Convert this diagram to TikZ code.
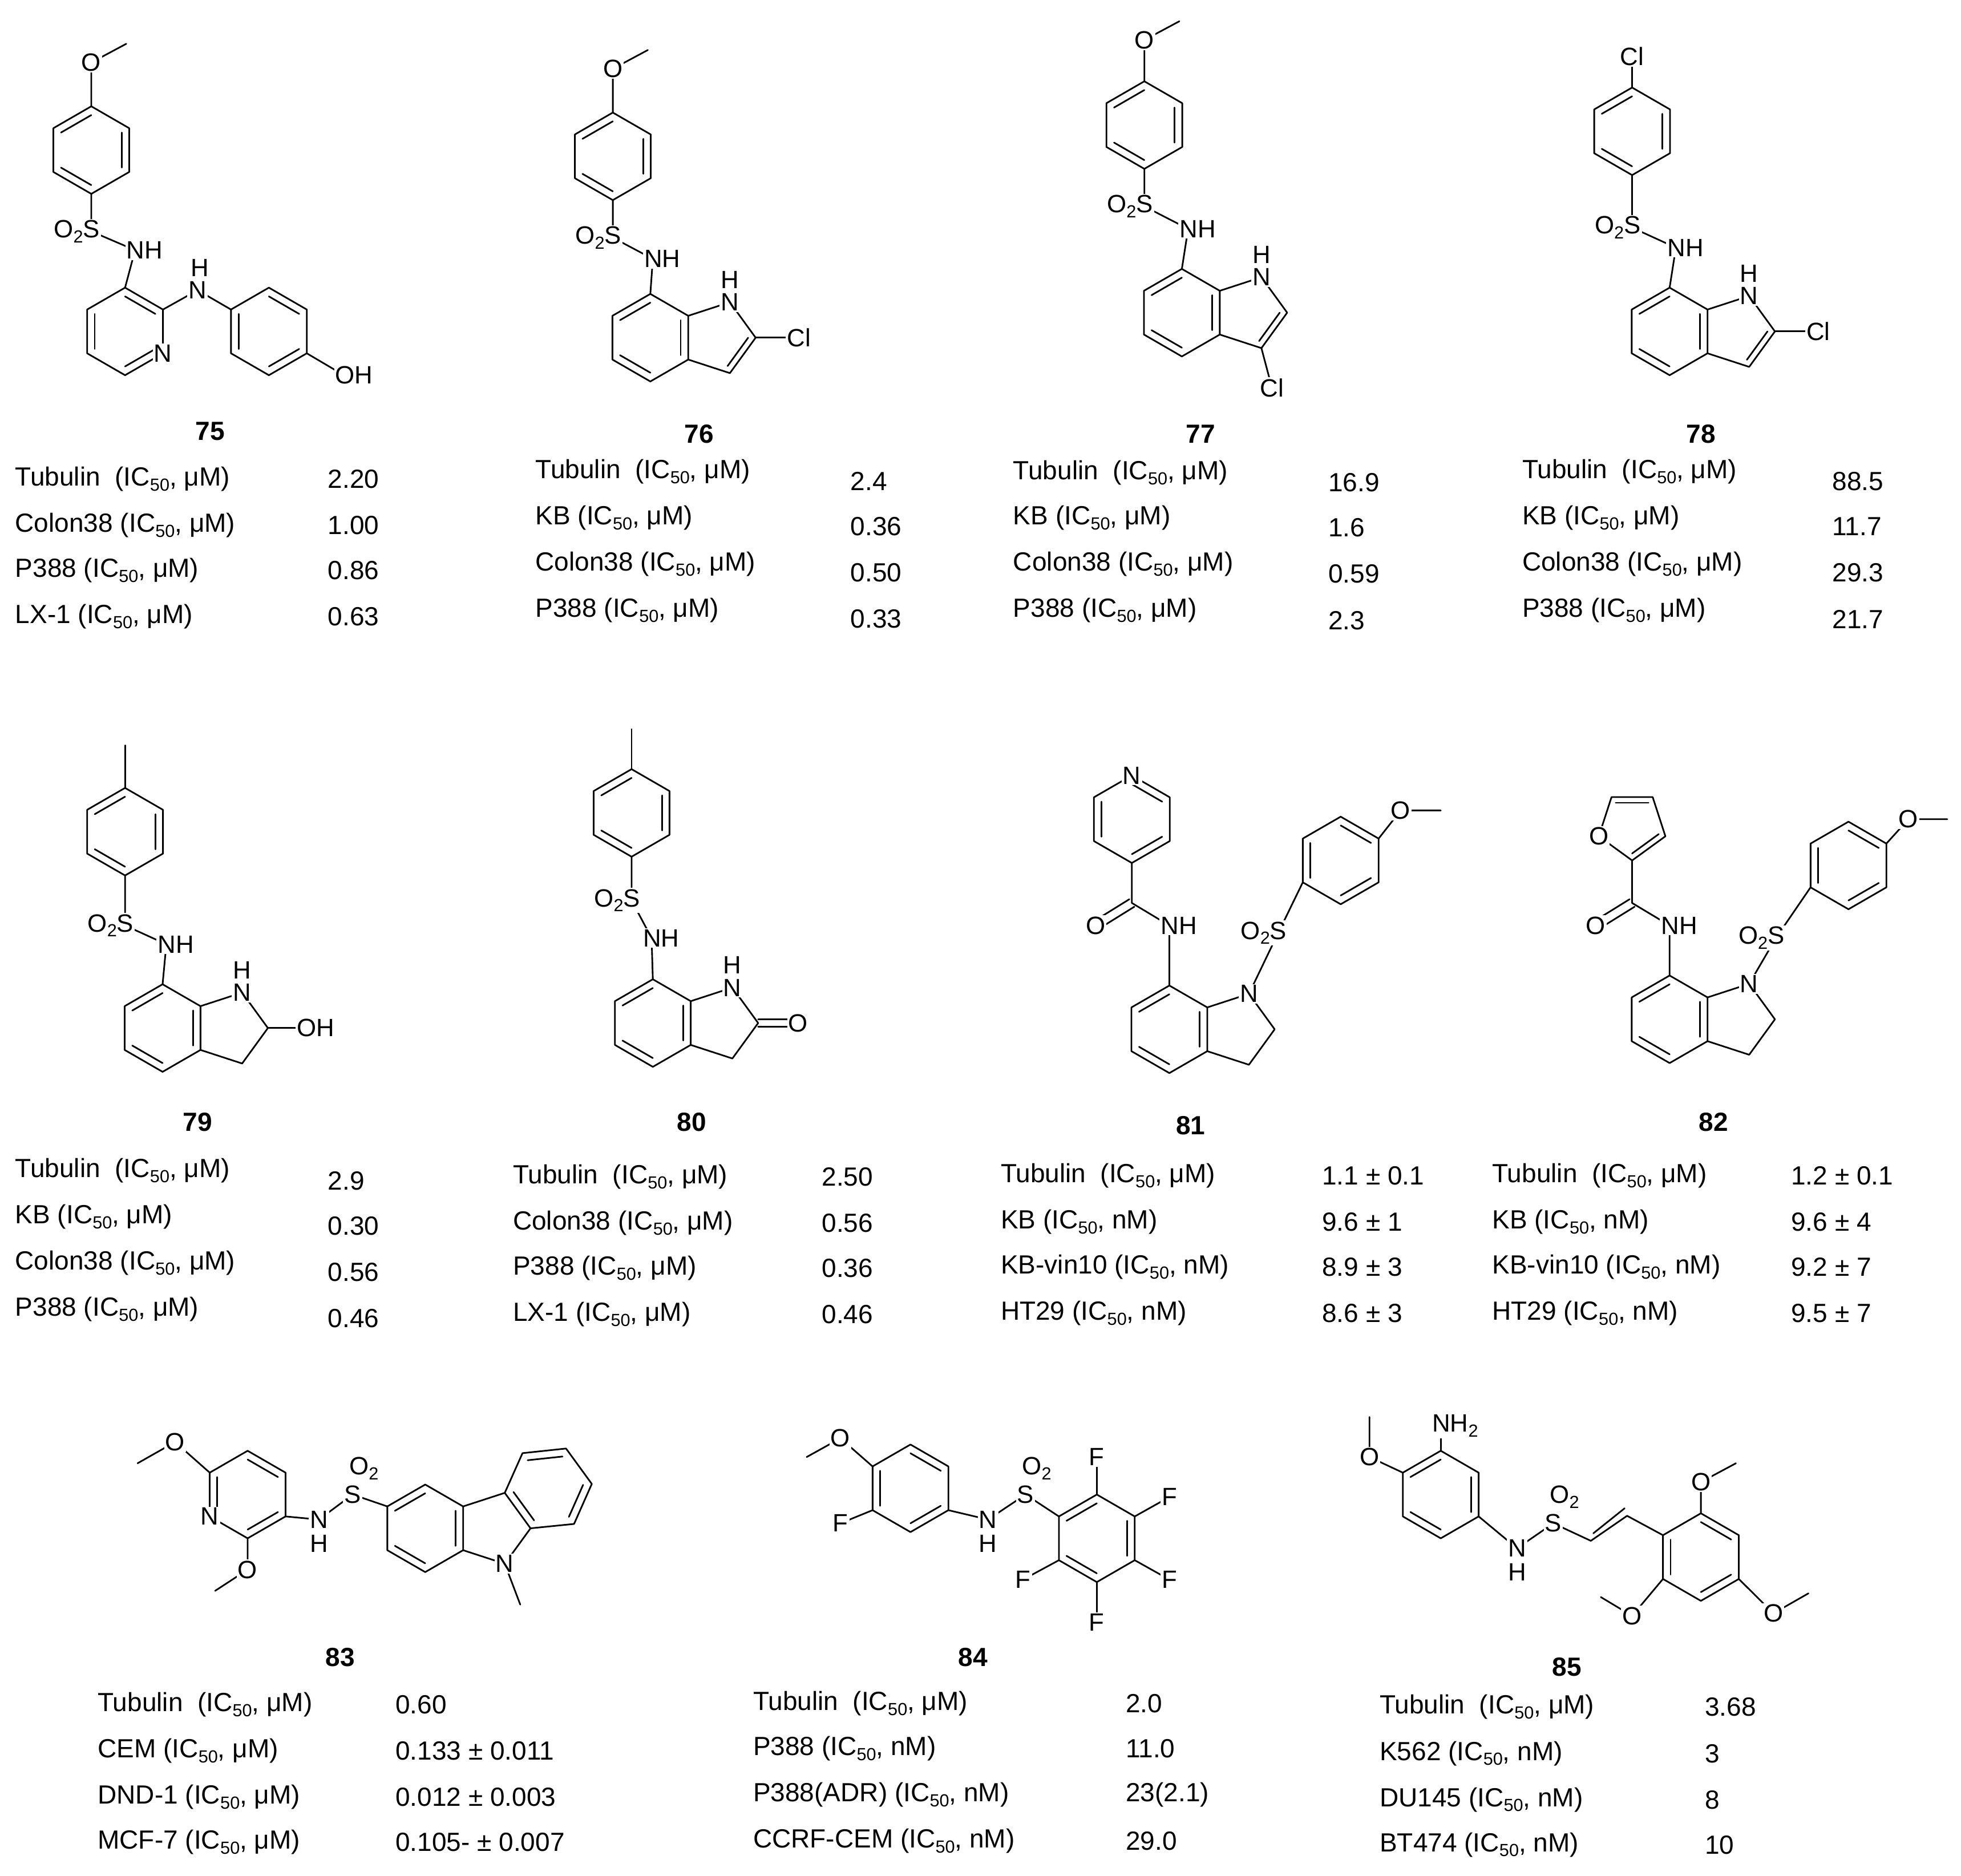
\documentclass[tikz,border=0pt]{standalone}
\usepackage{fontspec}
\setmainfont{Liberation Sans}
\usetikzlibrary{calc}
\newcommand\lowsub[1]{\raisebox{-4pt}{\fontsize{14}{14}\selectfont #1}}
\newcommand\hexa[4]{%
 \coordinate (#1c) at (#2,#3);
 \foreach \k in {1,...,6}{\coordinate (#1\k) at ($(#1c)+({-150+60*\k+#4}:35)$);}
 \draw[bond] (#11)--(#12)--(#13)--(#14)--(#15)--(#16)--cycle;}
\newcommand\db[3]{\draw[bond] ($(#1#2)!0.2!(#1c)$) -- ($(#1#3)!0.2!(#1c)$);}
\newcommand\penta[1]{%
 \coordinate (#1pc) at ($(#1c)+(54.4,0)$);
 \coordinate (#1p1) at ($(#1pc)+(-72:29.8)$);
 \coordinate (#1p2) at ($(#1pc)+(0:29.8)$);
 \coordinate (#1p3) at ($(#1pc)+(72:29.8)$);
 \draw[bond] (#12)--(#1p1)--(#1p2)--(#1p3)--(#13);}
\newcommand\dbp[1]{\draw[bond] ($(#1p2)!0.2!(#1pc)$) -- ($(#1p3)!0.2!(#1pc)$);}
\newcommand\trow[6]{\node[tl] at (#1,#2) {#3}; \node[tv] at (#4,#5) {#6};}
\begin{document}
\begin{tikzpicture}[x=1pt,y=-1pt,
  bond/.style={line width=1.3pt,line cap=round,line join=round},
  lab/.style={fill=white,inner sep=1pt,font=\fontsize{20}{22}\selectfont},
  tl/.style={anchor=west,inner sep=0pt,font=\fontsize{21}{24}\selectfont},
  tv/.style={anchor=west,inner sep=0pt,font=\fontsize{21}{24}\selectfont},
  num/.style={font=\fontsize{21}{24}\selectfont\bfseries}]
\useasboundingbox[fill=white] (0,0) rectangle (1568,1500);
% ================= 75
\hexa{a}{73}{120}{0}\db{a}{2}{3}\db{a}{4}{5}\db{a}{6}{1}
\coordinate (aO) at (73,50); \coordinate (aMe) at (101,35);
\coordinate (aS) at (73,185); \coordinate (aN) at (108,200);
\hexa{b}{100}{265}{0}\db{b}{5}{6}\db{b}{1}{2}\db{b}{3}{4}
\hexa{c}{215}{265}{0}\db{c}{1}{2}\db{c}{3}{4}\db{c}{5}{6}
\coordinate (bN) at (158,232); \coordinate (cO) at (275,300);
\draw[bond] (a1)--(aO)--(aMe); \draw[bond] (a4)--(aS)--(aN)--(b1);
\draw[bond] (b2)--(bN)--(c6); \draw[bond] (c3)--(cO);
\node[lab] (t75o) at (aO) {O};
\node[lab,anchor=east] (t75s) at ($(aS)+(8,0)$) {O\lowsub{2}S};
\node[lab,anchor=west] (t75n) at ($(aN)+(-8,0)$) {NH};
\node[lab] (t75pn) at (b3) {N};
\node[lab] (t75nn) at (bN) {N}; \node[lab] (t75h) at ($(bN)+(2,-18)$) {H};
\node[lab,anchor=west] (t75oh) at ($(cO)+(-8,0)$) {OH};
\node[num] (n75) at (168,345) {75};
\trow{12}{383}{Tubulin~~(IC\lowsub{50}, μM)}{262}{383}{2.20}
\trow{12}{420}{Colon38 (IC\lowsub{50}, μM)}{262}{420}{1.00}
\trow{12}{456}{P388 (IC\lowsub{50}, μM)}{262}{456}{0.86}
\trow{12}{493}{LX-1 (IC\lowsub{50}, μM)}{262}{493}{0.63}
% ================= 76
\hexa{d}{490}{125}{0}\db{d}{2}{3}\db{d}{4}{5}\db{d}{6}{1}
\coordinate (dO) at (490,55); \coordinate (dMe) at (518,40);
\coordinate (dS) at (490,190); \coordinate (dN) at (522,207);
\hexa{e}{520}{270}{0}\penta{e}\db{e}{6}{1}\db{e}{2}{3}\db{e}{4}{5}\dbp{e}
\coordinate (eCl) at ($(ep2)+(30,0)$);
\draw[bond] (d1)--(dO)--(dMe); \draw[bond] (d4)--(dS)--(dN)--(e1); \draw[bond] (ep2)--(eCl);
\node[lab] (t76o) at (dO) {O};
\node[lab,anchor=east] (t76s) at ($(dS)+(8,0)$) {O\lowsub{2}S};
\node[lab,anchor=west] (t76n) at ($(dN)+(-8,0)$) {NH};
\node[lab] (t76in) at (ep1) {N}; \node[lab] (t76h) at ($(ep1)+(0,-18)$) {H};
\node[lab,anchor=west] (t76cl) at ($(eCl)+(-6,0)$) {Cl};
\node[num] (n76) at (559,347) {76};
\trow{428}{377}{Tubulin~~(IC\lowsub{50}, μM)}{680}{385}{2.4}
\trow{428}{414}{KB (IC\lowsub{50}, μM)}{680}{421}{0.36}
\trow{428}{451}{Colon38 (IC\lowsub{50}, μM)}{680}{458}{0.50}
\trow{428}{488}{P388 (IC\lowsub{50}, μM)}{680}{495}{0.33}
% ================= 77
\hexa{f}{915}{100}{0}\db{f}{2}{3}\db{f}{4}{5}\db{f}{6}{1}
\coordinate (fO) at (915,32); \coordinate (fMe) at (943,17);
\coordinate (fS) at (915,165); \coordinate (fN) at (950,183);
\hexa{g}{945}{250}{0}\penta{g}\db{g}{6}{1}\db{g}{2}{3}\db{g}{4}{5}\dbp{g}
\coordinate (gCl) at (1017,310);
\draw[bond] (f1)--(fO)--(fMe); \draw[bond] (f4)--(fS)--(fN)--(g1); \draw[bond] (gp3)--(gCl);
\node[lab] (t77o) at (fO) {O};
\node[lab,anchor=east] (t77s) at ($(fS)+(8,0)$) {O\lowsub{2}S};
\node[lab,anchor=west] (t77n) at ($(fN)+(-8,0)$) {NH};
\node[lab] (t77in) at (gp1) {N}; \node[lab] (t77h) at ($(gp1)+(0,-18)$) {H};
\node[lab] (t77cl) at (gCl) {Cl};
\node[num] (n77) at (960,347) {77};
\trow{810}{378}{Tubulin~~(IC\lowsub{50}, μM)}{1062}{386}{16.9}
\trow{810}{414}{KB (IC\lowsub{50}, μM)}{1062}{422}{1.6}
\trow{810}{451}{Colon38 (IC\lowsub{50}, μM)}{1062}{459}{0.59}
\trow{810}{488}{P388 (IC\lowsub{50}, μM)}{1062}{496}{2.3}
% ================= 78
\hexa{h}{1305}{105}{0}\db{h}{2}{3}\db{h}{4}{5}\db{h}{6}{1}
\coordinate (hCl) at (1305,45);
\coordinate (hS) at (1305,182); \coordinate (hN) at (1340,198);
\hexa{i}{1335}{265}{0}\penta{i}\db{i}{6}{1}\db{i}{2}{3}\db{i}{4}{5}\dbp{i}
\coordinate (iCl) at ($(ip2)+(30,0)$);
\draw[bond] (h1)--(hCl); \draw[bond] (h4)--(hS)--(hN)--(i1); \draw[bond] (ip2)--(iCl);
\node[lab] (t78cl1) at (hCl) {Cl};
\node[lab,anchor=east] (t78s) at ($(hS)+(8,0)$) {O\lowsub{2}S};
\node[lab,anchor=west] (t78n) at ($(hN)+(-8,0)$) {NH};
\node[lab] (t78in) at (ip1) {N}; \node[lab] (t78h) at ($(ip1)+(0,-18)$) {H};
\node[lab,anchor=west] (t78cl) at ($(iCl)+(-6,0)$) {Cl};
\node[num] (n78) at (1360,347) {78};
\trow{1217}{377}{Tubulin~~(IC\lowsub{50}, μM)}{1465}{385}{88.5}
\trow{1217}{414}{KB (IC\lowsub{50}, μM)}{1465}{421}{11.7}
\trow{1217}{451}{Colon38 (IC\lowsub{50}, μM)}{1465}{458}{29.3}
\trow{1217}{488}{P388 (IC\lowsub{50}, μM)}{1465}{495}{21.7}
% ================= 79
\hexa{j}{100}{665}{0}\db{j}{2}{3}\db{j}{4}{5}\db{j}{6}{1}
\coordinate (jMe) at (100,596);
\coordinate (jS) at (100,740); \coordinate (jN) at (133,755);
\hexa{k}{130}{822}{0}\penta{k}\db{k}{6}{1}\db{k}{2}{3}\db{k}{4}{5}
\coordinate (kO) at ($(kp2)+(30,0)$);
\draw[bond] (j1)--(jMe); \draw[bond] (j4)--(jS)--(jN)--(k1); \draw[bond] (kp2)--(kO);
\node[lab,anchor=east] (t79s) at ($(jS)+(8,0)$) {O\lowsub{2}S};
\node[lab,anchor=west] (t79n) at ($(jN)+(-8,0)$) {NH};
\node[lab] (t79in) at (kp1) {N}; \node[lab] (t79h) at ($(kp1)+(0,-18)$) {H};
\node[lab,anchor=west] (t79oh) at ($(kO)+(-8,0)$) {OH};
\node[num] (n79) at (158,897) {79};
\trow{12}{936}{Tubulin~~(IC\lowsub{50}, μM)}{262}{944}{2.9}
\trow{12}{973}{KB (IC\lowsub{50}, μM)}{262}{980}{0.30}
\trow{12}{1010}{Colon38 (IC\lowsub{50}, μM)}{262}{1017}{0.56}
\trow{12}{1047}{P388 (IC\lowsub{50}, μM)}{262}{1054}{0.46}
% ================= 80
\hexa{l}{505}{650}{0}\db{l}{2}{3}\db{l}{4}{5}\db{l}{6}{1}
\coordinate (lMe) at (505,583);
\coordinate (lS) at (505,720); \coordinate (lN) at (521,750);
\hexa{m}{522}{818}{0}\penta{m}\db{m}{6}{1}\db{m}{2}{3}\db{m}{4}{5}
\coordinate (mO) at ($(mp2)+(30,0)$);
\draw[bond] (l1)--(lMe); \draw[bond] (l4)--(lS)--(lN)--(m1);
\draw[bond] ($(mp2)+(0,-3)$)--($(mO)+(0,-3)$); \draw[bond] ($(mp2)+(0,3)$)--($(mO)+(0,3)$);
\node[lab,anchor=east] (t80s) at ($(lS)+(8,0)$) {O\lowsub{2}S};
\node[lab,anchor=west] (t80n) at ($(lN)+(-8,0)$) {NH};
\node[lab] (t80in) at (mp1) {N}; \node[lab] (t80h) at ($(mp1)+(0,-18)$) {H};
\node[lab,anchor=west] (t80o) at ($(mO)+(-7,0)$) {O};
\node[num] (n80) at (553,897) {80};
\trow{410}{941}{Tubulin~~(IC\lowsub{50}, μM)}{657}{941}{2.50}
\trow{410}{978}{Colon38 (IC\lowsub{50}, μM)}{657}{978}{0.56}
\trow{410}{1014}{P388 (IC\lowsub{50}, μM)}{657}{1014}{0.36}
\trow{410}{1051}{LX-1 (IC\lowsub{50}, μM)}{657}{1051}{0.46}
% ================= 81
\hexa{n}{905}{655}{0}\db{n}{1}{2}\db{n}{3}{4}\db{n}{5}{6}
\coordinate (nC) at (905,722); \coordinate (nO) at (876,740); \coordinate (nN) at (935,740);
\hexa{o}{935}{823}{0}\penta{o}\db{o}{6}{1}\db{o}{2}{3}\db{o}{4}{5}
\coordinate (oS) at (1022,746);
\hexa{q}{1072}{688}{0}\db{q}{1}{2}\db{q}{3}{4}\db{q}{5}{6}
\coordinate (qO) at (1120,648); \coordinate (qMe) at (1152,648);
\draw[bond] (n4)--(nC)--(nN)--(o1);
\draw[bond] ($(nC)+(-2,-3)$)--($(nO)+(-2,-3)$); \draw[bond] ($(nC)+(2,3)$)--($(nO)+(2,3)$);
\draw[bond] (op1)--(oS)--(q5); \draw[bond] (q2)--(qO)--(qMe);
\node[lab] (t81pn) at (n1) {N};
\node[lab] (t81o) at (nO) {O};
\node[lab,anchor=west] (t81n) at ($(nN)+(-8,0)$) {NH};
\node[lab] (t81in) at (op1) {N};
\node[lab,anchor=east] (t81s) at ($(oS)+(8,0)$) {O\lowsub{2}S};
\node[lab] (t81mo) at (qO) {O};
\node[num] (n81) at (952,900) {81};
\trow{800}{940}{Tubulin~~(IC\lowsub{50}, μM)}{1057}{940}{1.1 ± 0.1}
\trow{800}{977}{KB (IC\lowsub{50}, nM)}{1057}{977}{9.6 ± 1}
\trow{800}{1013}{KB-vin10 (IC\lowsub{50}, nM)}{1057}{1013}{8.9 ± 3}
\trow{800}{1050}{HT29 (IC\lowsub{50}, nM)}{1057}{1050}{8.6 ± 3}
% ================= 82
\coordinate (rc) at (1305,660);
\coordinate (rB) at ($(rc)+(90:28)$); \coordinate (rO) at ($(rc)+(162:28)$);
\coordinate (rTL) at ($(rc)+(234:28)$); \coordinate (rTR) at ($(rc)+(306:28)$);
\coordinate (rR) at ($(rc)+(18:28)$);
\draw[bond] (rB)--(rO)--(rTL)--(rTR)--(rR)--cycle;
\draw[bond] ($(rTL)!0.2!(rc)$)--($(rTR)!0.2!(rc)$); \draw[bond] ($(rR)!0.2!(rc)$)--($(rB)!0.2!(rc)$);
\coordinate (sC) at (1305,722); \coordinate (sO) at (1276,740); \coordinate (sN) at (1335,740);
\hexa{s}{1335}{815}{0}\penta{s}\db{s}{6}{1}\db{s}{2}{3}\db{s}{4}{5}
\coordinate (sS) at (1420,750);
\hexa{t}{1478}{692}{0}\db{t}{1}{2}\db{t}{3}{4}\db{t}{5}{6}
\coordinate (tO) at (1526,655); \coordinate (tMe) at (1557,655);
\draw[bond] (rB)--(sC)--(sN)--(s1);
\draw[bond] ($(sC)+(-2,-3)$)--($(sO)+(-2,-3)$); \draw[bond] ($(sC)+(2,3)$)--($(sO)+(2,3)$);
\draw[bond] (sp1)--(sS)--(t5); \draw[bond] (t2)--(tO)--(tMe);
\node[lab] (t82fo) at (rO) {O};
\node[lab] (t82o) at (sO) {O};
\node[lab,anchor=west] (t82n) at ($(sN)+(-8,0)$) {NH};
\node[lab] (t82in) at (sp1) {N};
\node[lab,anchor=east] (t82s) at ($(sS)+(8,0)$) {O\lowsub{2}S};
\node[lab] (t82mo) at (tO) {O};
\node[num] (n82) at (1370,897) {82};
\trow{1193}{940}{Tubulin~~(IC\lowsub{50}, μM)}{1432}{940}{1.2 ± 0.1}
\trow{1193}{977}{KB (IC\lowsub{50}, nM)}{1432}{977}{9.6 ± 4}
\trow{1193}{1013}{KB-vin10 (IC\lowsub{50}, nM)}{1432}{1013}{9.2 ± 7}
\trow{1193}{1050}{HT29 (IC\lowsub{50}, nM)}{1432}{1050}{9.5 ± 7}
% ================= 83
\hexa{u}{198}{1195}{0}\db{u}{5}{6}\db{u}{3}{4}\db{u}{1}{2}
\coordinate (uO1) at (140,1153); \coordinate (uMe1) at (110,1170);
\coordinate (uO2) at (198,1255); \coordinate (uMe2) at (172,1272);
\coordinate (uN) at (255,1215); \coordinate (uS) at (282,1195);
\hexa{v}{340}{1222}{0}\penta{v}\db{v}{6}{1}\db{v}{2}{3}\db{v}{4}{5}
\coordinate (wc) at (438.4,1190.2);
\coordinate (w1) at (459,1218.5); \coordinate (w2) at (473.2,1186.5);
\coordinate (w3) at (452.6,1158.2); \coordinate (w4) at (417.8,1161.9);
\draw[bond] (vp2)--(w1)--(w2)--(w3)--(w4)--(vp1);
\draw[bond] ($(w3)!0.2!(wc)$)--($(w4)!0.2!(wc)$); \draw[bond] ($(w1)!0.2!(wc)$)--($(w2)!0.2!(wc)$);
\draw[bond] ($(vp1)!0.2!(wc)$)--($(vp2)!0.2!(wc)$);
\coordinate (vMe) at (416,1283);
\draw[bond] (u6)--(uO1)--(uMe1); \draw[bond] (u4)--(uO2)--(uMe2);
\draw[bond] (u3)--(uN)--(uS)--(v6); \draw[bond] (vp3)--(vMe);
\node[lab] (t83o1) at (uO1) {O}; \node[lab] (t83o2) at (uO2) {O};
\node[lab] (t83pn) at (u5) {N};
\node[lab] (t83n) at (uN) {N}; \node[lab] (t83h) at ($(uN)+(0,19)$) {H};
\node[lab] (t83s) at (uS) {S}; \node[lab] (t83o2s) at ($(uS)+(9,-21)$) {O\lowsub{2}};
\node[lab] (t83cn) at (vp3) {N};
\node[num] (n83) at (272,1325) {83};
\trow{78}{1363}{Tubulin~~(IC\lowsub{50}, μM)}{316}{1363}{0.60}
\trow{78}{1400}{CEM (IC\lowsub{50}, μM)}{316}{1400}{0.133 ± 0.011}
\trow{78}{1437}{DND-1 (IC\lowsub{50}, μM)}{316}{1437}{0.012 ± 0.003}
\trow{78}{1473}{MCF-7 (IC\lowsub{50}, μM)}{316}{1473}{0.105- ± 0.007}
% ================= 84
\hexa{x}{728}{1190}{0}\db{x}{1}{2}\db{x}{3}{4}\db{x}{5}{6}
\coordinate (xO) at (672,1150); \coordinate (xMe) at (645,1165);
\coordinate (xF) at (672,1218); \coordinate (xN) at (790,1215); \coordinate (xS) at (820,1195);
\hexa{y}{877}{1230}{0}\db{y}{6}{1}\db{y}{2}{3}\db{y}{4}{5}
\coordinate (yF1) at (877,1165); \coordinate (yF2) at (935,1197); \coordinate (yF3) at (935,1263);
\coordinate (yF4) at (877,1297); \coordinate (yF5) at (818,1263);
\draw[bond] (x6)--(xO)--(xMe); \draw[bond] (x5)--(xF); \draw[bond] (x3)--(xN)--(xS)--(y6);
\draw[bond] (y1)--(yF1); \draw[bond] (y2)--(yF2); \draw[bond] (y3)--(yF3); \draw[bond] (y4)--(yF4); \draw[bond] (y5)--(yF5);
\node[lab] (t84o) at (xO) {O}; \node[lab] (t84f) at (xF) {F};
\node[lab] (t84n) at (xN) {N}; \node[lab] (t84h) at ($(xN)+(0,19)$) {H};
\node[lab] (t84s) at (xS) {S}; \node[lab] (t84o2) at ($(xS)+(9,-21)$) {O\lowsub{2}};
\node[lab] (t84f1) at (yF1) {F}; \node[lab] (t84f2) at (yF2) {F}; \node[lab] (t84f3) at (yF3) {F};
\node[lab] (t84f4) at (yF4) {F}; \node[lab] (t84f5) at (yF5) {F};
\node[num] (n84) at (778,1325) {84};
\trow{602}{1362}{Tubulin~~(IC\lowsub{50}, μM)}{900}{1362}{2.0}
\trow{602}{1398}{P388 (IC\lowsub{50}, nM)}{900}{1398}{11.0}
\trow{602}{1435}{P388(ADR) (IC\lowsub{50}, nM)}{900}{1435}{23(2.1)}
\trow{602}{1472}{CCRF-CEM (IC\lowsub{50}, nM)}{900}{1472}{29.0}
% ================= 85
\hexa{z}{1152}{1195}{0}\db{z}{6}{1}\db{z}{2}{3}\db{z}{4}{5}
\coordinate (zNH) at (1152,1140); \coordinate (zO) at (1095,1165); \coordinate (zMe) at (1095,1133);
\coordinate (zN) at (1213,1238); \coordinate (zS) at (1242,1218);
\coordinate (zC1) at (1272,1232); \coordinate (zC2) at (1301,1212);
\hexa{Z}{1360}{1245}{0}\db{Z}{1}{2}\db{Z}{3}{4}\db{Z}{5}{6}
\coordinate (ZO1) at (1360,1185); \coordinate (ZMe1) at (1388,1170);
\coordinate (ZO2) at (1305,1292); \coordinate (ZMe2) at (1280,1277);
\coordinate (ZO3) at (1418,1290); \coordinate (ZMe3) at (1446,1274);
\draw[bond] (z1)--(zNH); \draw[bond] (z6)--(zO)--(zMe);
\draw[bond] (z3)--(zN)--(zS)--(zC1)--(zC2)--(Z6);
\draw[bond] ($(zC1)+(2,-6)$)--($(zC2)+(-2,-6)$);
\draw[bond] (Z1)--(ZO1)--(ZMe1); \draw[bond] (Z5)--(ZO2)--(ZMe2); \draw[bond] (Z3)--(ZO3)--(ZMe3);
\node[lab,anchor=west] (t85nh) at ($(zNH)+(-8,0)$) {NH\lowsub{2}};
\node[lab] (t85o) at (zO) {O};
\node[lab] (t85n) at (zN) {N}; \node[lab] (t85h) at ($(zN)+(0,19)$) {H};
\node[lab] (t85s) at (zS) {S}; \node[lab] (t85o2) at ($(zS)+(9,-21)$) {O\lowsub{2}};
\node[lab] (t85o1) at (ZO1) {O}; \node[lab] (t85o3) at (ZO2) {O}; \node[lab] (t85o4) at (ZO3) {O};
\node[num] (n85) at (1253,1333) {85};
\trow{1103}{1365}{Tubulin~~(IC\lowsub{50}, μM)}{1363}{1365}{3.68}
\trow{1103}{1402}{K562 (IC\lowsub{50}, nM)}{1363}{1402}{3}
\trow{1103}{1439}{DU145 (IC\lowsub{50}, nM)}{1363}{1439}{8}
\trow{1103}{1475}{BT474 (IC\lowsub{50}, nM)}{1363}{1475}{10}
\end{tikzpicture}
\end{document}
